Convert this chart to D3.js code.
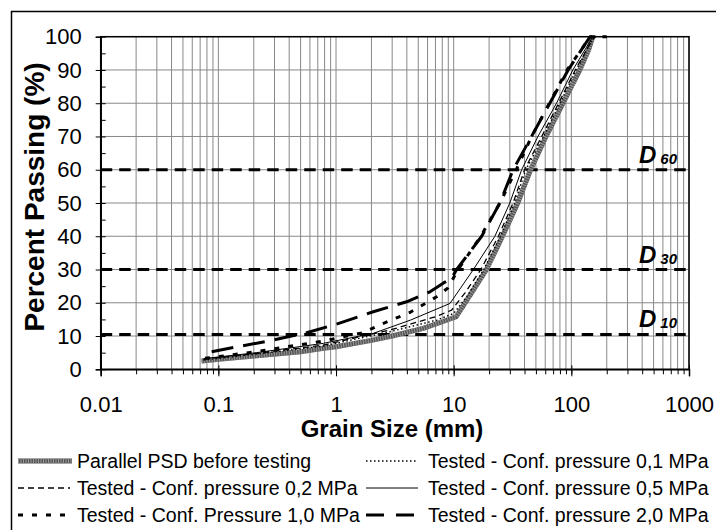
<!DOCTYPE html>
<html>
<head>
<meta charset="utf-8">
<script src="https://cdn.jsdelivr.net/npm/d3@7"></script>
<style>
  body { margin: 0; background: #fff; }
  text { font-family: "Liberation Sans", Arial, sans-serif; fill: #000; }
</style>
</head>
<body>
<svg id="chart"></svg>
<script>
// Grain size distribution curves before / after triaxial testing

const width = 716;
const height = 530;

// grain sizes (mm) and percent passing for each curve
const psdSize  = [0.072, 0.1, 0.2, 0.5, 0.78, 1, 2, 3, 5.5, 8, 10.5, 12, 15, 19, 26, 35, 45, 61, 85, 118, 140, 152];
const psdPass  = [2.5, 3.0, 4.0, 5.3, 6.3, 6.8, 8.7, 10.0, 12.3, 14.3, 15.8, 19, 24.3, 30, 40, 50, 60, 70, 80, 90, 96, 100];

const p01Size  = [0.075, 0.2, 0.78, 2.87, 7.2, 10, 13, 18, 25, 33, 41, 58, 80, 110, 150, 160];
const p01Pass  = [2.8, 4.5, 7.0, 11.3, 14.8, 16.8, 22, 30, 40, 50, 60, 70, 80, 90, 99, 100];

const p02Size  = [0.075, 0.2, 0.78, 2.87, 7, 9.6, 12.5, 17, 24, 32, 40, 56, 78, 108, 150, 160];
const p02Pass  = [3.0, 4.7, 7.3, 11.8, 15.8, 17.8, 23, 30, 40, 50, 60, 70, 80, 90, 99, 100];

const p05Size  = [0.075, 0.211, 0.78, 2.07, 4.3, 9.3, 14.7, 22.4, 30, 37.8, 52, 74.8, 103, 152];
const p05Pass  = [3.2, 5.0, 7.8, 10.8, 14.8, 19.8, 30, 40, 50, 60, 70, 80, 90, 100];

const p10Size  = [0.077, 0.2, 0.78, 1.7, 2.44, 4.25, 7.16, 8.9, 10.9, 17, 24.7, 34, 46, 65, 92, 145, 170];
const p10Pass  = [3.3, 5.2, 8.5, 11.0, 13.6, 17.1, 21.8, 24.4, 30, 40, 50, 60, 70, 80, 90, 100, 100];

const p20Size  = [0.0877, 0.274, 0.563, 1.01, 2.07, 3.98, 6.2, 8.14, 9.6, 10.6, 17.3, 24.7, 32, 45.9, 65.6, 94, 144, 200];
const p20Pass  = [5.3, 8.6, 11.0, 13.6, 17.3, 20.3, 23.2, 25.9, 27.4, 30, 40, 50, 60, 70, 80, 90, 100, 100];

// characteristic diameters
const dLevels  = [60, 30, 10.5];
const dLabels  = ["60", "30", "10"];

const xTicks   = [0.01, 0.1, 1, 10, 100, 1000];
const xTickLabels = ["0.01", "0.1", "1", "10", "100", "1000"];
const yTicks   = d3.range(0, 101, 10);

const series = [
    { name: "Parallel PSD before testing",        size: psdSize, pass: psdPass, style: "psd" },
    { name: "Tested - Conf. pressure 0,1 MPa",    size: p01Size, pass: p01Pass, style: "dot" },
    { name: "Tested - Conf. pressure 0,2 MPa",    size: p02Size, pass: p02Pass, style: "dash" },
    { name: "Tested - Conf. pressure 0,5 MPa",    size: p05Size, pass: p05Pass, style: "solid" },
    { name: "Tested - Conf. Pressure 1,0 MPa",    size: p10Size, pass: p10Pass, style: "sqdash" },
    { name: "Tested - Conf. pressure 2,0 MPa",    size: p20Size, pass: p20Pass, style: "longdash" }
];

const styles = {
    psd:      { stroke: "#555", width: 5, dash: null },
    dot:      { stroke: "#000", width: 1.4, dash: "1.5,2.5" },
    dash:     { stroke: "#000", width: 1.3, dash: "6,4" },
    solid:    { stroke: "#000", width: 1, dash: null },
    sqdash:   { stroke: "#000", width: 3, dash: "5,9" },
    longdash: { stroke: "#000", width: 3, dash: "22,10" }
};

const svg = d3.select("#chart").attr("width", width).attr("height", height);

svg.append("rect").attr("width", width).attr("height", height).attr("fill", "#fff");
// outer chart border (cut off at right and bottom in the original)
svg.append("rect")
    .attr("x", 11.5).attr("y", 11.5)
    .attr("width", 760).attr("height", 560)
    .attr("fill", "none").attr("stroke", "#000").attr("stroke-width", 1.5);

const x = d3.scaleLog().domain([0.01, 1000]).range([100.7, 689]);
const y = d3.scaleLinear().domain([0, 100]).range([369.3, 36.7]);

// grid
const minorX = [];
for (let k = -2; k <= 2; k++) {
    for (let i = 1; i <= 9; i++) minorX.push(i * Math.pow(10, k));
}
minorX.push(1000);

const grid = svg.append("g");
grid.selectAll("line.vx").data(minorX).join("line")
    .attr("x1", d => x(d)).attr("x2", d => x(d))
    .attr("y1", y(0)).attr("y2", y(100))
    .attr("stroke", "#888").attr("stroke-width", 1);
grid.selectAll("line.hy").data(yTicks).join("line")
    .attr("x1", x(0.01)).attr("x2", x(1000))
    .attr("y1", d => y(d)).attr("y2", d => y(d))
    .attr("stroke", "#888").attr("stroke-width", 1);

// D lines
svg.append("g").selectAll("line").data(dLevels).join("line")
    .attr("x1", x(0.01)).attr("x2", x(1000))
    .attr("y1", d => y(d)).attr("y2", d => y(d))
    .attr("stroke", "#000").attr("stroke-width", 3)
    .attr("stroke-dasharray", "11.5,7");

// curves
const line = d3.line()
    .x(d => x(d[0]))
    .y(d => y(d[1]));

series.forEach(s => {
    const pts = s.size.map((v, i) => [v, s.pass[i]]);
    const st = styles[s.style];
    svg.append("path")
        .attr("d", line(pts))
        .attr("fill", "none")
        .attr("stroke", st.stroke)
        .attr("stroke-width", st.width)
        .attr("stroke-dasharray", st.dash)
        .attr("stroke-linejoin", "round");
    if (s.style === "psd") {
        svg.append("path")
            .attr("d", line(pts))
            .attr("fill", "none")
            .attr("stroke", "#9a9a9a")
            .attr("stroke-width", 5)
            .attr("stroke-dasharray", "1,1.5");
    }
});

// plot frame
svg.append("rect")
    .attr("x", x(0.01)).attr("y", y(100))
    .attr("width", x(1000) - x(0.01)).attr("height", y(0) - y(100))
    .attr("fill", "none").attr("stroke", "#000").attr("stroke-width", 1.5);

// x axis
const xAxis = svg.append("g")
    .attr("transform", `translate(0,${y(0)})`)
    .call(d3.axisBottom(x).tickValues(xTicks).tickSize(7).tickPadding(20)
        .tickFormat((d, i) => xTickLabels[i]));
xAxis.select(".domain").attr("stroke-width", 1.5);
xAxis.selectAll("text").attr("font-size", 22).attr("font-family", "Liberation Sans, Arial, sans-serif");

svg.append("g")
    .attr("transform", `translate(0,${y(0)})`)
    .call(d3.axisBottom(x).tickValues(minorX).tickSize(5).tickFormat(""))
    .call(g => g.select(".domain").remove());
svg.append("g")
    .attr("transform", `translate(0,${y(0)})`)
    .call(d3.axisTop(x).tickValues(xTicks).tickSize(4).tickFormat(""))
    .call(g => g.select(".domain").remove());

// y axis
const yAxis = svg.append("g")
    .attr("transform", `translate(${x(0.01)},0)`)
    .call(d3.axisLeft(y).tickValues(yTicks).tickSize(5).tickPadding(14));
yAxis.select(".domain").attr("stroke-width", 1.5);
yAxis.selectAll("text").attr("font-size", 22).attr("font-family", "Liberation Sans, Arial, sans-serif");

svg.append("g")
    .attr("transform", `translate(${x(0.01)},0)`)
    .call(d3.axisRight(y).tickValues(d3.range(0, 101, 5)).tickSize(5).tickFormat(""))
    .call(g => g.select(".domain").remove());

// axis titles
svg.append("text")
    .attr("transform", "translate(43.5,197) rotate(-90)")
    .attr("text-anchor", "middle")
    .attr("font-size", 28).attr("font-weight", "bold")
    .text("Percent Passing (%)");

svg.append("text")
    .attr("x", 392).attr("y", 436.5)
    .attr("text-anchor", "middle")
    .attr("font-size", 24).attr("font-weight", "bold")
    .text("Grain Size (mm)");

// D labels
const dl = svg.append("g").selectAll("text").data(dLevels).join("text")
    .attr("x", 677).attr("y", d => y(d) - 7)
    .attr("text-anchor", "end")
    .attr("font-weight", "bold").attr("font-style", "italic");
dl.append("tspan").attr("font-size", 24).text("D");
dl.append("tspan").attr("font-size", 15).attr("dx", 4).attr("dy", 1).text((d, i) => dLabels[i]);

// legend
const legendPos = [
    { sx: 18, tx: 77, y: 461 },
    { sx: 366, tx: 428, y: 461 },
    { sx: 18, tx: 77, y: 488 },
    { sx: 366, tx: 428, y: 488 },
    { sx: 18, tx: 77, y: 515 },
    { sx: 366, tx: 428, y: 515 }
];

series.forEach((s, i) => {
    const p = legendPos[i];
    const st = styles[s.style];
    const sw = s.style === "psd" ? 54 : 52;
    svg.append("line")
        .attr("x1", p.sx).attr("x2", p.sx + sw)
        .attr("y1", p.y).attr("y2", p.y)
        .attr("stroke", st.stroke)
        .attr("stroke-width", st.width)
        .attr("stroke-dasharray", s.style === "longdash" ? "18,12" : st.dash);
    if (s.style === "psd") {
        svg.append("line")
            .attr("x1", p.sx).attr("x2", p.sx + sw)
            .attr("y1", p.y).attr("y2", p.y)
            .attr("stroke", "#9a9a9a").attr("stroke-width", 5)
            .attr("stroke-dasharray", "1,1.5");
    }
    svg.append("text")
        .attr("x", p.tx).attr("y", p.y + 7)
        .attr("font-size", 19.5)
        .text(s.name);
});
</script>
</body>
</html>
